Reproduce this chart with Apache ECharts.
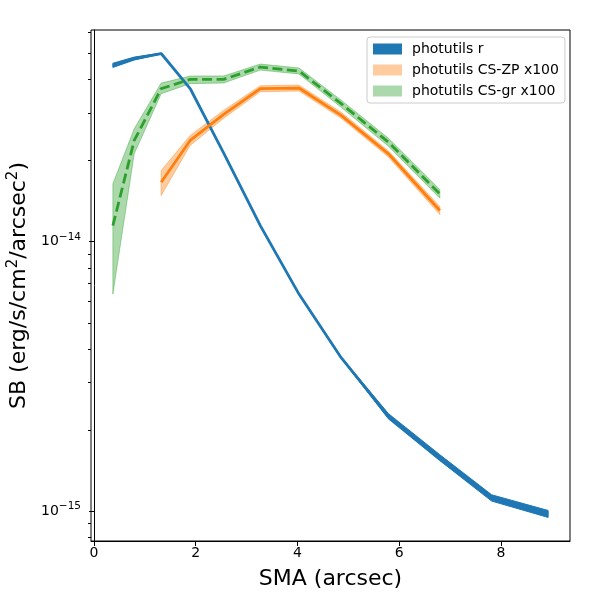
<!DOCTYPE html>
<html lang="en">
<head>
  <meta charset="UTF-8">
  <title>SB profile</title>
  <script src="https://cdn.jsdelivr.net/npm/echarts@6/dist/echarts.min.js"></script>
  <style>
    html, body { margin: 0; padding: 0; background: #fff; }
  </style>
</head>
<body>
<div id="main" style="width: 600px;height:600px;"></div>
<script type="text/javascript">
  // SMA (arcsec) for each profile
  var smaR  = [0.37, 0.79, 1.32, 1.89, 2.55, 3.27, 4.03, 4.86, 5.79, 6.80, 7.82, 8.93];
  var smaZP = [1.32, 1.89, 2.55, 3.27, 4.03, 4.86, 5.79, 6.80];
  var smaGR = [0.37, 0.79, 1.32, 1.89, 2.55, 3.27, 4.03, 4.86, 5.79, 6.80];

  // photutils r
  var sbR   = [4.51e-14, 4.78e-14, 4.99e-14, 3.70e-14, 2.13e-14, 1.147e-14, 6.39e-15, 3.71e-15, 2.25e-15, 1.58e-15, 1.12e-15, 9.77e-16];
  var sbRlo = [4.43e-14, 4.72e-14, 4.97e-14, 3.69e-14, 2.125e-14, 1.144e-14, 6.37e-15, 3.69e-15, 2.20e-15, 1.54e-15, 1.09e-15, 9.48e-16];
  var sbRhi = [4.59e-14, 4.84e-14, 5.01e-14, 3.71e-14, 2.135e-14, 1.150e-14, 6.41e-15, 3.73e-15, 2.30e-15, 1.62e-15, 1.15e-15, 1.006e-15];

  // photutils CS-ZP x100
  var sbZP   = [1.661e-14, 2.374e-14, 2.969e-14, 3.695e-14, 3.715e-14, 2.941e-14, 2.118e-14, 1.305e-14];
  var sbZPlo = [1.483e-14, 2.275e-14, 2.87e-14, 3.60e-14, 3.62e-14, 2.87e-14, 2.06e-14, 1.26e-14];
  var sbZPhi = [1.836e-14, 2.478e-14, 3.07e-14, 3.79e-14, 3.81e-14, 3.02e-14, 2.17e-14, 1.35e-14];

  // photutils CS-gr x100
  var sbGR   = [1.147e-14, 2.374e-14, 3.695e-14, 4.002e-14, 4.002e-14, 4.446e-14, 4.296e-14, 3.250e-14, 2.339e-14, 1.504e-14];
  var sbGRlo = [6.39e-15, 2.118e-14, 3.540e-14, 3.857e-14, 3.88e-14, 4.33e-14, 4.19e-14, 3.15e-14, 2.26e-14, 1.45e-14];
  var sbGRhi = [1.639e-14, 2.624e-14, 3.877e-14, 4.117e-14, 4.12e-14, 4.56e-14, 4.41e-14, 3.35e-14, 2.42e-14, 1.56e-14];

  var xTicks = [0, 2, 4, 6, 8];
  var yMajor = [1e-15, 1e-14];
  var yMinor = [8e-16, 9e-16, 2e-15, 3e-15, 4e-15, 5e-15, 6e-15, 7e-15, 8e-15, 9e-15,
                2e-14, 3e-14, 4e-14, 5e-14, 6e-14];

  var names = ['photutils r', 'photutils CS-ZP x100', 'photutils CS-gr x100'];
  var font = 'DejaVu Sans';

  function pairs(xs, ys) {
    return xs.map(function (x, i) { return [x, ys[i]]; });
  }

  // filled band between lo and hi, drawn as one polygon
  function band(name, xs, lo, hi, color) {
    return {
      name: name,
      type: 'custom',
      silent: true,
      z: 1,
      itemStyle: { color: color },
      encode: { x: 0, y: [1, 2] },
      data: xs.map(function (x, i) { return [x, lo[i], hi[i]]; }),
      renderItem: function (params, api) {
        if (params.dataIndex !== 0) return null;
        var pts = [];
        for (var i = 0; i < xs.length; i++) pts.push(api.coord([xs[i], hi[i]]));
        for (var j = xs.length - 1; j >= 0; j--) pts.push(api.coord([xs[j], lo[j]]));
        return {
          type: 'polygon',
          shape: { points: pts },
          style: { fill: color, stroke: color, lineWidth: 1 }
        };
      }
    };
  }

  function line(xs, ys, color, dashed) {
    return {
      name: '_line',
      type: 'line',
      silent: true,
      z: 2,
      symbol: 'none',
      data: pairs(xs, ys),
      lineStyle: { color: color, width: 2.8, type: dashed ? [10, 4.5] : 'solid' }
    };
  }

  function supLabel(v) {
    var e = Math.round(Math.log10(v));
    return '{b|10}{s|' + (e < 0 ? '\u2212' + (-e) : e) + '}';
  }

  var myChart = echarts.init(document.getElementById('main'));

  var option = {
    animation: false,
    backgroundColor: '#fff',
    grid: {
      left: 91, right: 30, top: 30, bottom: 59,
      containLabel: false,
      outerBoundsMode: 'none',
      show: true, borderColor: '#000', borderWidth: 1
    },
    legend: {
      orient: 'vertical',
      left: 367,
      top: 37,
      padding: [5, 6, 5, 6],
      itemWidth: 29,
      itemHeight: 11,
      itemGap: 7,
      icon: 'rect',
      backgroundColor: 'rgba(255,255,255,0.8)',
      borderColor: '#cccccc',
      borderWidth: 1,
      borderRadius: 3,
      textStyle: { fontFamily: font, fontSize: 14, color: '#000', padding: [0, 0, 0, 5] },
      data: [
        { name: names[0], itemStyle: { color: '#1f77b4' } },
        { name: names[1], itemStyle: { color: 'rgba(255,127,14,0.4)' } },
        { name: names[2], itemStyle: { color: 'rgba(44,160,44,0.4)' } }
      ]
    },
    xAxis: {
      type: 'value',
      min: -0.06,
      max: 9.36,
      name: 'SMA (arcsec)',
      nameLocation: 'middle',
      nameGap: 27,
      nameTextStyle: { fontFamily: font, fontSize: 22, color: '#000' },
      axisLine: { lineStyle: { color: '#000', width: 1 } },
      axisTick: { customValues: xTicks, length: 5, lineStyle: { color: '#000' } },
      axisLabel: { customValues: xTicks, fontFamily: font, fontSize: 14, color: '#000', margin: 5 },
      splitLine: { show: false }
    },
    yAxis: [
      {
        type: 'log',
        logBase: 10,
        min: 7.75e-16,
        max: 6.1e-14,
        name: 'SB (erg/s/cm{s|2}/arcsec{s|2})',
        nameLocation: 'middle',
        nameGap: 58,
        nameTextStyle: {
          fontFamily: font, fontSize: 22, color: '#000',
          rich: { s: { fontFamily: font, fontSize: 15, color: '#000', padding: [0, 0, 12, 0] } }
        },
        axisLine: { lineStyle: { color: '#000', width: 1 } },
        axisTick: { customValues: yMajor, length: 5, lineStyle: { color: '#000' } },
        axisLabel: {
          customValues: yMajor,
          margin: 10,
          formatter: supLabel,
          rich: {
            b: { fontFamily: font, fontSize: 14, color: '#000' },
            s: { fontFamily: font, fontSize: 10.5, color: '#000', padding: [0, 0, 9, 0] }
          }
        },
        splitLine: { show: false }
      },
      {
        type: 'log',
        logBase: 10,
        min: 7.75e-16,
        max: 6.1e-14,
        position: 'left',
        axisLine: { show: false },
        axisTick: { customValues: yMinor, length: 3, lineStyle: { color: '#000' } },
        axisLabel: { show: false },
        splitLine: { show: false }
      }
    ],
    series: [
      band(names[0], smaR, sbRlo, sbRhi, '#1f77b4'),
      band(names[1], smaZP, sbZPlo, sbZPhi, 'rgba(255,127,14,0.4)'),
      band(names[2], smaGR, sbGRlo, sbGRhi, 'rgba(44,160,44,0.4)'),
      line(smaR, sbR, '#1f77b4', false),
      line(smaZP, sbZP, '#ff7f0e', false),
      line(smaGR, sbGR, '#2ca02c', true)
    ]
  };
  myChart.setOption(option);
</script>
</body>
</html>
